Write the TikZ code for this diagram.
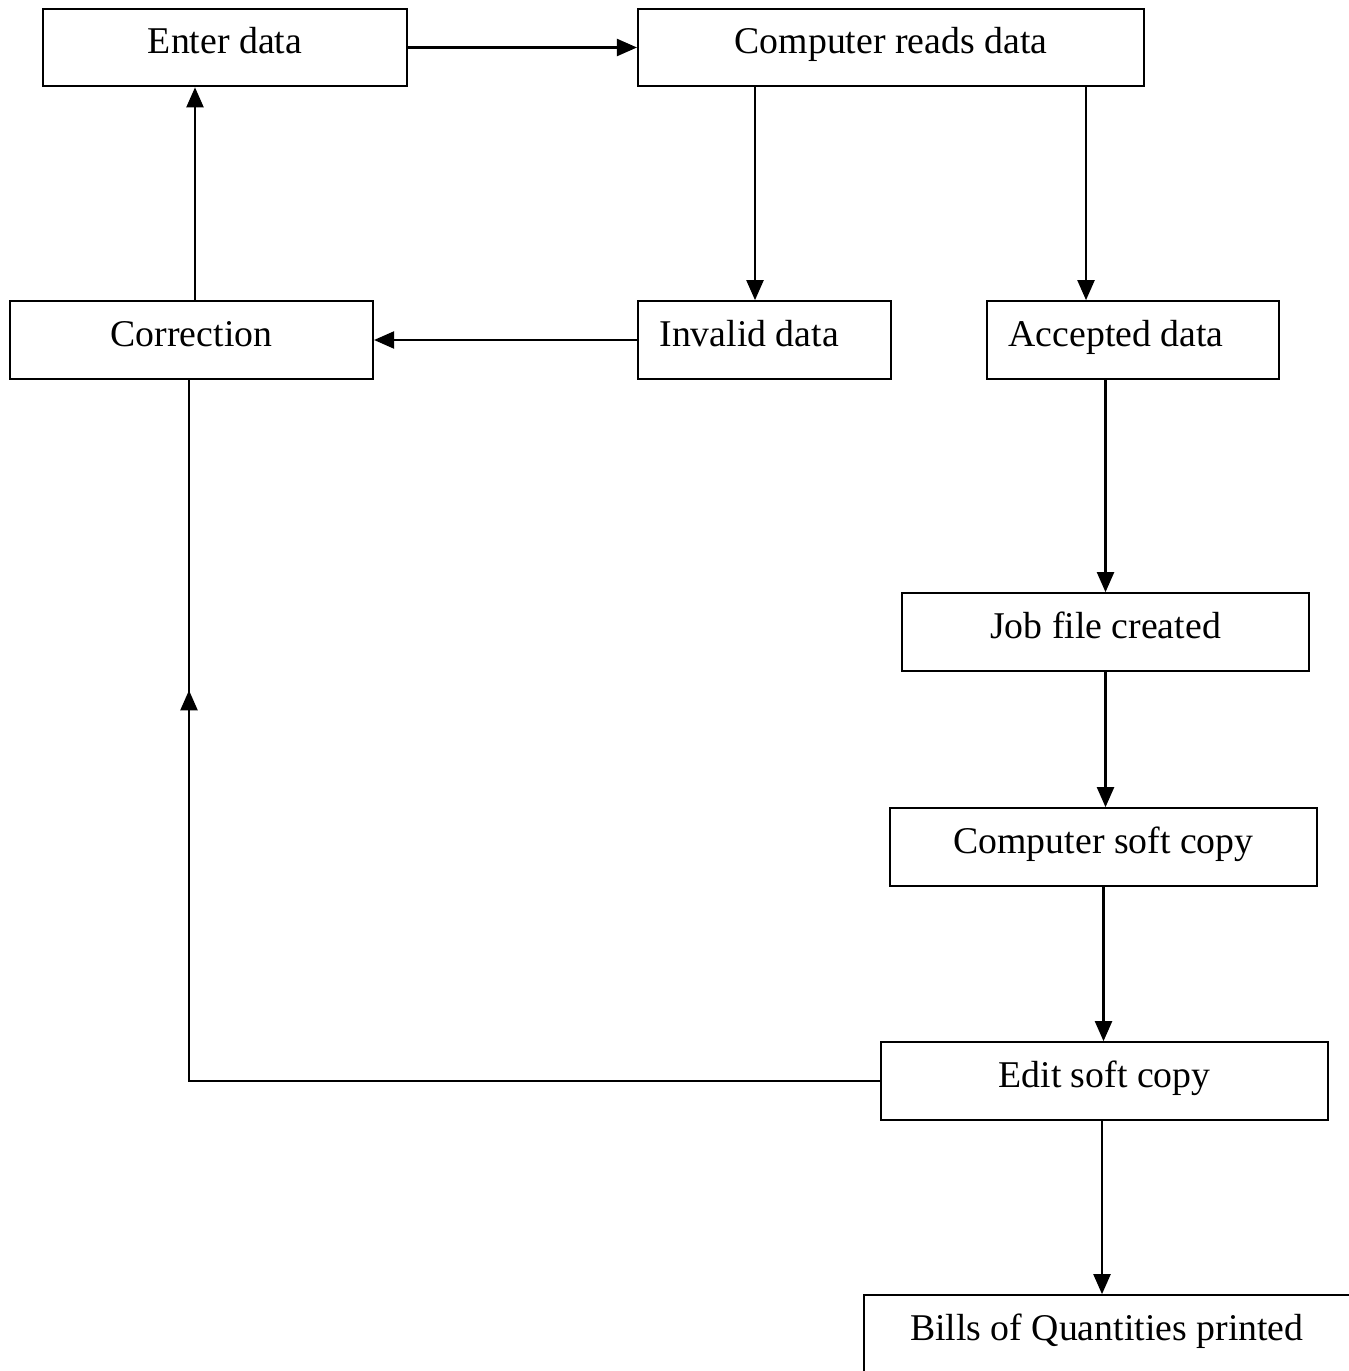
\documentclass[tikz,border=0pt]{standalone}
\usepackage{fontspec}
\setmainfont{Liberation Serif}
\usetikzlibrary{positioning,arrows.meta,calc,decorations.markings}
\tikzset{
  box/.style={draw,line width=1.25pt,minimum height=1.55cm,inner sep=0pt,
    font=\fontsize{21.5}{26}\selectfont,text height=0.5cm,text depth=0.24cm},
  lbox/.style={box,align=flush left,inner xsep=0.43cm},
  arr/.style={-{Triangle[length=0.4cm,width=0.34cm]},line width=1.25pt},
  midarr/.style={line width=1.25pt,
    postaction={decorate},decoration={markings,
      mark=at position 0.777 with {\arrow{Triangle[length=0.4cm,width=0.34cm]}}}}, % arrow half way up
}
\begin{document}
\begin{tikzpicture}[x=0.02cm,y=-0.02cm]
  \useasboundingbox (0,0) rectangle (1348,1371);
  % top row
  \node[box,minimum width=7.28cm] (enter) at (225,47.5) {Enter data};
  \node[box,minimum width=10.12cm] (cread) at (891,47.5) {Computer reads data};
  % second row
  \node[box,minimum width=7.26cm] (corr) at (191.5,340) {Correction};
  \node[lbox,text width=4.2cm] (ival) at (764.5,340) {Invalid data};
  \node[lbox,text width=4.98cm] (accp) at (1133,340) {Accepted data};
  % right column
  \node[box,minimum width=8.14cm] (jobf) at (1105.5,632) {Job file created};
  \node[box,minimum width=8.54cm] (csoft) at (1103.5,847) {Computer soft copy};
  \node[box,minimum width=8.94cm] (edit) at (1104.5,1081) {Edit soft copy};
  \node[lbox,inner xsep=0.92cm,text width=8.16cm] (bills) at (1114,1334) {Bills of Quantities printed};
  % connectors
  \draw[arr] (enter.east) -- (cread.west);
  \draw[arr] ([xshift=-0.19cm]ival.north |- cread.south) -- ([xshift=-0.19cm]ival.north);
  \draw[arr] ([xshift=-0.94cm]accp.north |- cread.south) -- ([xshift=-0.94cm]accp.north);
  \draw[arr] (ival.west) -- (corr.east);
  \draw[arr] ([xshift=0.07cm]corr.north) -- ([xshift=0.07cm]corr.north |- enter.south);
  \draw[arr] (jobf.north |- accp.south) -- (jobf.north);
  \draw[arr] (jobf.south) -- (jobf.south |- csoft.north);
  \draw[arr] (csoft.south) -- (csoft.south |- edit.north);
  \draw[arr] ([xshift=-0.05cm]edit.south) -- ([xshift=-0.05cm]edit.south |- bills.north);
  \draw[midarr] (edit.west) -| ([xshift=-0.05cm]corr.south);
\end{tikzpicture}
\end{document}
